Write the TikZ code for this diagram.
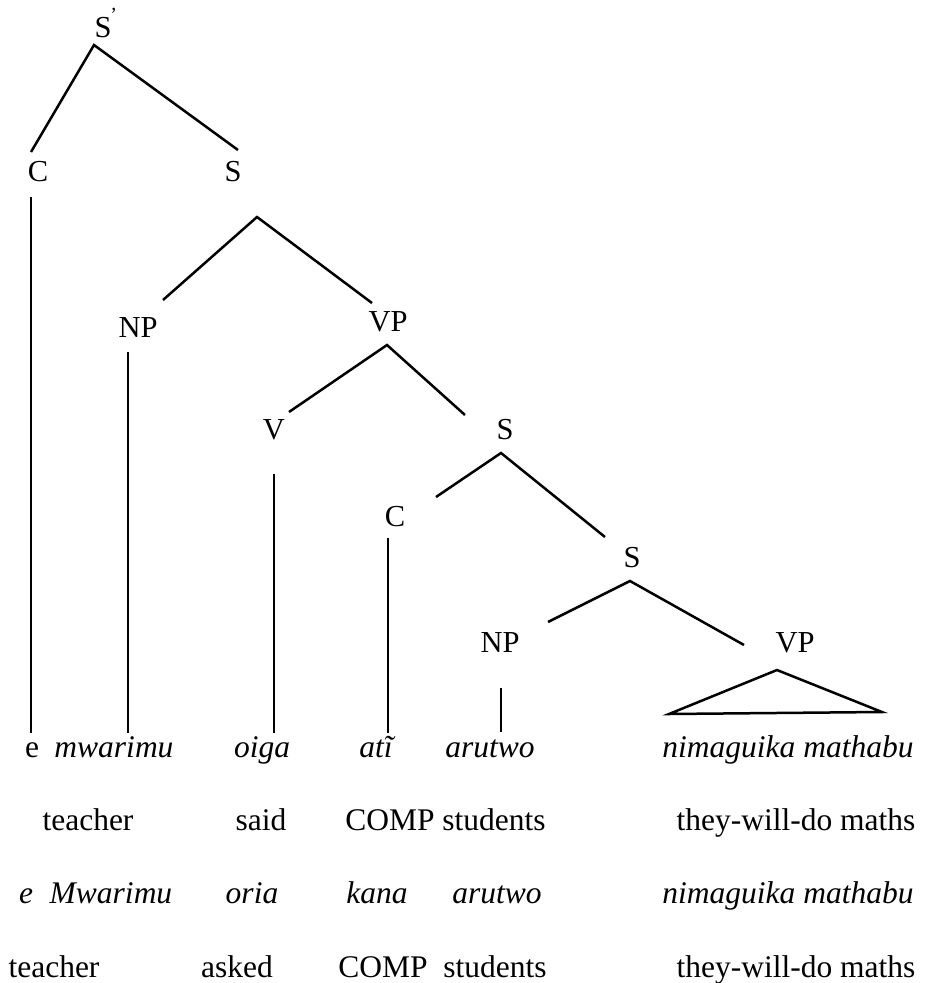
\documentclass[tikz,border=0pt]{standalone}
\usepackage{fontspec}
\setmainfont{Liberation Serif}
\begin{document}
\begin{tikzpicture}[x=1pt,y=1pt,
  cat/.style={font=\fontsize{30.5}{34}\selectfont, inner sep=0pt},
  word/.style={font=\fontsize{31.5}{36}\selectfont, inner sep=0pt, anchor=base},
  kik/.style={word, font=\fontsize{31.5}{36}\selectfont\itshape},
  branch/.style={line width=2.5pt},
  stem/.style={line width=1.5pt}]
\useasboundingbox (0,0) rectangle (932,-983);
\fill[white] (0,0) rectangle (932,-983);

% category labels
\node[cat] (Sp)  at (103,-28)  {S\smash{\rlap{\kern-1pt\raisebox{16pt}{\fontsize{20}{20}\selectfont ’}}}};
\node[cat] (C1)  at (38,-172)  {C};
\node[cat] (S1)  at (233,-172) {S};
\node[cat] (NP1) at (138,-328) {NP};
\node[cat] (VP1) at (388,-322) {VP};
\node[cat] (V)   at (274,-430) {V};
\node[cat] (S2)  at (505,-430) {S};
\node[cat] (C2)  at (395,-517) {C};
\node[cat] (S3)  at (632,-558) {S};
\node[cat] (NP2) at (500,-643) {NP};
\node[cat] (VP2) at (795,-643) {VP};

% first line: Kikuyu sentence
\node[word] (we)    at (32,-757)  {e};
\node[kik]  (wmw)   at (114,-757) {mwarimu};
\node[kik]  (woiga) at (262,-757) {oiga};
\node[kik]  (wati)  at (376,-757) {atĩ};
\node[kik]  (waru)  at (490,-757) {arutwo};
\node[kik]  (wnim)  at (788,-757) {nimaguika mathabu};

% second line: gloss
\node[word] (g1) at (88,-830)  {teacher};
\node[word] (g2) at (261,-830) {said};
\node[word] (g3) at (390,-830) {COMP};
\node[word] (g4) at (494,-830) {students};
\node[word] (g5) at (796,-830) {they-will-do maths};

% third line: second Kikuyu sentence
\node[kik] (ke)   at (26,-903)  {e};
\node[kik] (kmw)  at (111,-903) {Mwarimu};
\node[kik] (kor)  at (252,-903) {oria};
\node[kik] (kka)  at (377,-903) {kana};
\node[kik] (karu) at (497,-903) {arutwo};
\node[kik] (knim) at (788,-903) {nimaguika mathabu};

% fourth line: gloss
\node[word] (h1) at (54,-977)  {teacher};
\node[word] (h2) at (237,-977) {asked};
\node[word] (h3) at (383,-977) {COMP};
\node[word] (h4) at (495,-977) {students};
\node[word] (h5) at (796,-977) {they-will-do maths};

% branches
\draw[branch] ([xshift=-7pt,yshift=20pt]C1.center) -- ([xshift=-9pt,yshift=-17pt]Sp.center) -- ([xshift=5pt,yshift=22pt]S1.center);
\draw[branch] ([xshift=25pt,yshift=28pt]NP1.center) -- ([xshift=24pt,yshift=-45pt]S1.center) -- ([xshift=-16pt,yshift=19pt]VP1.center);
\draw[branch] ([xshift=15pt,yshift=18pt]V.center) -- ([xshift=-1pt,yshift=-23pt]VP1.center) -- ([xshift=-40pt,yshift=15pt]S2.center);
\draw[branch] ([xshift=41pt,yshift=20pt]C2.center) -- ([xshift=-4pt,yshift=-23pt]S2.center) -- ([xshift=-27pt,yshift=21pt]S3.center);
\draw[branch] ([xshift=48pt,yshift=21pt]NP2.center) -- ([xshift=-2pt,yshift=-23pt]S3.center) -- ([xshift=-51pt,yshift=-2pt]VP2.center);

% unary stems to the words
\draw[stem] ([xshift=-7pt,yshift=-25pt]C1.center) -- ([xshift=-1pt,yshift=24pt]we.base);
\draw[stem] ([xshift=-10pt,yshift=-24pt]NP1.center) -- ([xshift=14pt,yshift=24pt]wmw.base);
\draw[stem] ([yshift=-44pt]V.center) -- ([xshift=12pt,yshift=24pt]woiga.base);
\draw[stem] ([xshift=-7pt,yshift=-21pt]C2.center) -- ([xshift=12pt,yshift=24pt]wati.base);
\draw[stem] ([xshift=1pt,yshift=-45pt]NP2.center) -- ([xshift=11pt,yshift=25pt]waru.base);

% triangle over the VP
\draw[branch, line join=miter] ([xshift=-18pt,yshift=-27pt]VP2.center) -- ([xshift=-126pt,yshift=-71pt]VP2.center) -- ([xshift=87pt,yshift=-69pt]VP2.center) -- cycle;
\end{tikzpicture}
\end{document}
